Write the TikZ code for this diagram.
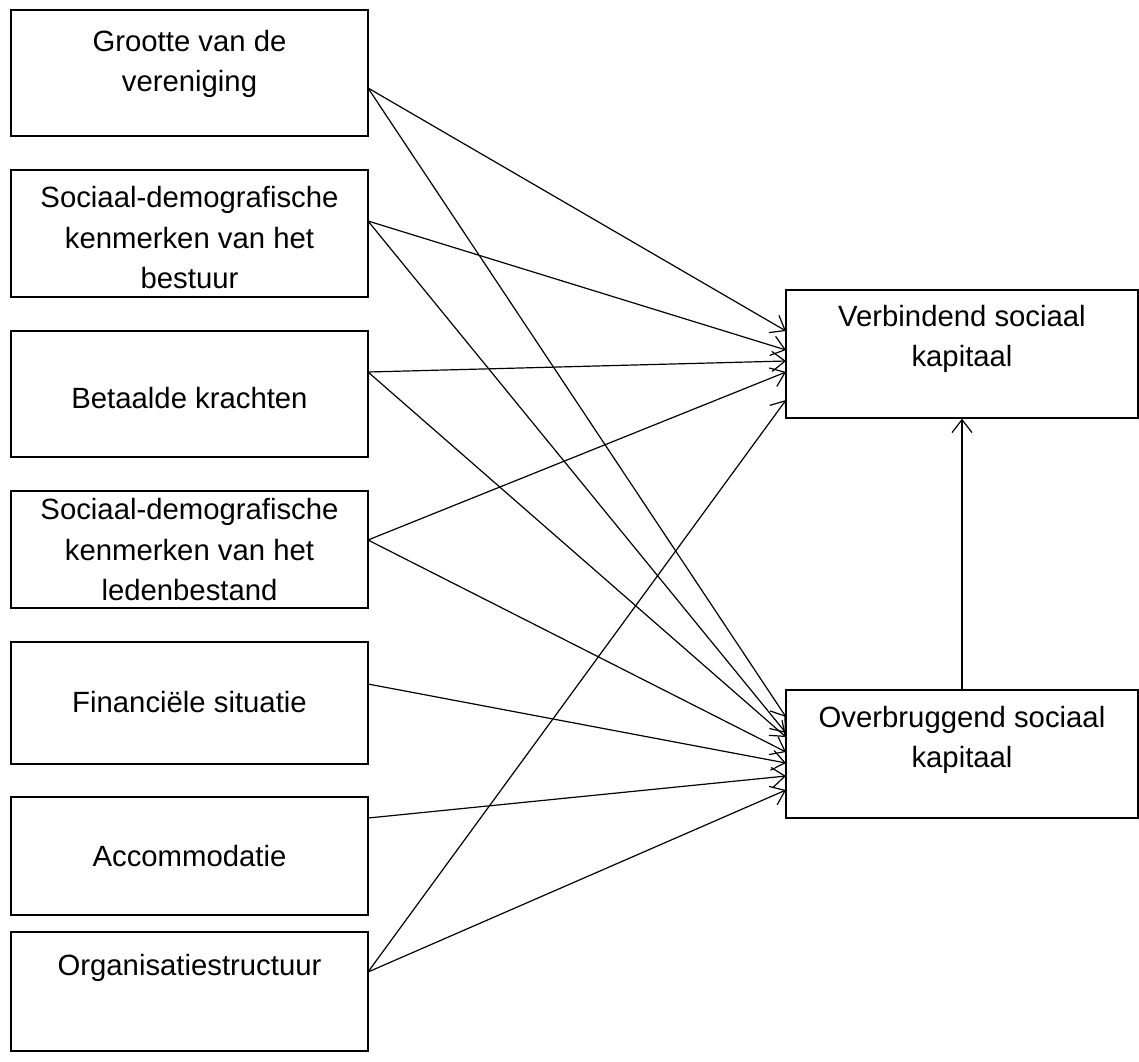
\documentclass[tikz,border=0pt]{standalone}
\usepackage{fontspec}
\setmainfont{Liberation Sans}
\usetikzlibrary{arrows.meta}
\begin{document}
\begin{tikzpicture}[x=1pt,y=-1pt,
  box/.style={draw,line width=1.3pt,inner sep=0pt},
  txt/.style={align=center,inner sep=0pt,font=\fontsize{29.3}{40.5}\selectfont},
  arr/.style={line width=1.2pt,-{Straight Barb[length=13pt,width=20pt,line width=1.2pt]}}]
\useasboundingbox (0,0) rectangle (1139,1061);
% left boxes
\node[box,minimum width=357pt,minimum height=126pt] (b1) at (189.5,73) {};
\node[box,minimum width=357pt,minimum height=127pt] (b2) at (189.5,233.5) {};
\node[box,minimum width=357pt,minimum height=126pt] (b3) at (189.5,394) {};
\node[box,minimum width=357pt,minimum height=117pt] (b4) at (189.5,549.5) {};
\node[box,minimum width=357pt,minimum height=122pt] (b5) at (189.5,703) {};
\node[box,minimum width=357pt,minimum height=118pt] (b6) at (189.5,856) {};
\node[box,minimum width=357pt,minimum height=119pt] (b7) at (189.5,991.5) {};
% right boxes
\node[box,minimum width=352pt,minimum height=128pt] (vb) at (962,354) {};
\node[box,minimum width=352pt,minimum height=128pt] (ob) at (962,754) {};
% texts
\node[txt] (t1) at (189.5,64) {Grootte van de\\vereniging};
\node[txt] (t2) at (189.5,238) {Sociaal-demografische\\kenmerken van het\\bestuur};
\node[txt] (t3) at (189.5,398) {Betaalde krachten};
\node[txt] (t4) at (189.5,550) {Sociaal-demografische\\kenmerken van het\\ledenbestand};
\node[txt] (t5) at (189.5,702) {Financiële situatie};
\node[txt] (t6) at (189.5,856) {Accommodatie};
\node[txt] (t7) at (189.5,968) {Organisatiestructuur};
\node[txt] (tv) at (962,339) {Verbindend sociaal\\kapitaal};
\node[txt] (to) at (962,740) {Overbruggend sociaal\\kapitaal};
% connector points
\coordinate (s1) at (368,88);
\coordinate (s2) at (368,221);
\coordinate (s3) at (368,372);
\coordinate (s4) at (368,540);
\coordinate (s5) at (368,684);
\coordinate (s6) at (368,818);
\coordinate (s7) at (368,972);
\coordinate (v1) at (786,331);
\coordinate (v2) at (786,350);
\coordinate (v3) at (786,361);
\coordinate (v4) at (786,372);
\coordinate (v7) at (786,400);
\coordinate (o1) at (786,717);
\coordinate (o2) at (786,733);
\coordinate (o3) at (786,737);
\coordinate (o4) at (786,752);
\coordinate (o5) at (786,763);
\coordinate (o6) at (786,776);
\coordinate (o7) at (786,790);
\draw[arr] (s1) -- (v1);
\draw[arr] (s1) -- (o1);
\draw[arr] (s2) -- (v2);
\draw[arr] (s2) -- (o2);
\draw[arr] (s3) -- (v3);
\draw[arr] (s3) -- (o3);
\draw[arr] (s4) -- (v4);
\draw[arr] (s4) -- (o4);
\draw[arr] (s5) -- (o5);
\draw[arr] (s6) -- (o6);
\draw[arr] (s7) -- (v7);
\draw[arr] (s7) -- (o7);
\draw[arr] (ob.north) -- (vb.south);
\end{tikzpicture}
\end{document}
